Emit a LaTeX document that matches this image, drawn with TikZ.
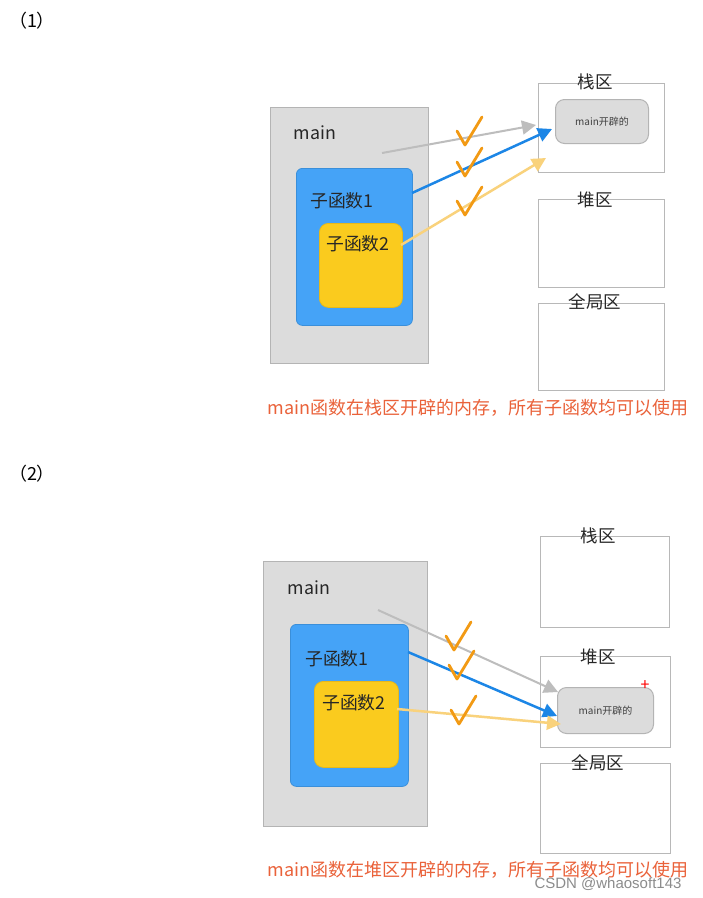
\documentclass[tikz,border=0pt]{standalone}
\usepackage{fontspec}
\setmainfont{Noto Sans CJK SC}
\newfontfamily\wmfont{Liberation Sans}
\usetikzlibrary{arrows.meta}
\definecolor{mgray}{HTML}{DCDCDC}
\definecolor{mgrayb}{HTML}{B4B4B4}
\definecolor{fblue}{HTML}{45A3F7}
\definecolor{fblueb}{HTML}{3A8FDA}
\definecolor{fyel}{HTML}{FACB1E}
\definecolor{fyelb}{HTML}{E8B818}
\definecolor{ablue}{HTML}{1C86E6}
\definecolor{agray}{HTML}{BDBDBD}
\definecolor{ayel}{HTML}{F9D27C}
\definecolor{chkc}{HTML}{F29A14}
\definecolor{capc}{HTML}{EA623A}
\definecolor{regb}{HTML}{B8B8B8}
\begin{document}
\begin{tikzpicture}[x=1pt,y=-1pt,
  mainbox/.style={draw=mgrayb,fill=mgray,line width=1pt,anchor=north west,inner sep=0pt},
  fbox1/.style={draw=fblueb,fill=fblue,rounded corners=6pt,line width=0.8pt,anchor=north west,inner sep=0pt},
  fbox2/.style={draw=fyelb,fill=fyel,rounded corners=9pt,line width=0.8pt,anchor=north west,inner sep=0pt},
  region/.style={draw=regb,fill=white,line width=1pt,anchor=north west,inner sep=0pt},
  allocbox/.style={draw=mgrayb,fill=mgray,rounded corners=9pt,line width=1pt,anchor=north west,inner sep=0pt},
  lbl/.style={font=\fontsize{17.8}{20}\selectfont,text=black!85,inner sep=0pt},
  rlbl/.style={font=\fontsize{17.5}{20}\selectfont,text=black!85,inner sep=0pt},
  smalllbl/.style={font=\fontsize{10}{12}\selectfont,text=black!75,inner sep=0pt},
  captext/.style={font=\fontsize{18}{20}\selectfont,text=capc,inner sep=0pt},
  num/.style={font=\fontsize{18}{20}\selectfont,text=black,inner sep=0pt},
  garrow/.style={draw=agray,line width=2pt,-{Triangle[length=14pt,width=14pt]}},
  barrow/.style={draw=ablue,line width=2.5pt,-{Triangle[length=14pt,width=14pt]}},
  yarrow/.style={draw=ayel,line width=2.5pt,-{Triangle[length=14pt,width=14pt]}},
  chk/.style={draw=chkc,line width=2.8pt,line cap=round,line join=round}
]
\useasboundingbox (0,0) rectangle (703,898);
\fill[white] (0,0) rectangle (703,898);

% ---------------- Panel 1 ----------------
\node[num] (n1) at (32,21) {（1）};
\node[mainbox,minimum width=158pt,minimum height=256pt] (m1) at (270,107) {};
\node[lbl] (m1t) at (315,133) {main};
\node[fbox1,minimum width=116pt,minimum height=157pt] (b1) at (296,168) {};
\node[lbl] (b1t) at (342,201) {子函数1};
\node[fbox2,minimum width=83pt,minimum height=84pt] (y1) at (319,223) {};
\node[lbl] (y1t) at (358,244) {子函数2};

\node[region,minimum width=126pt,minimum height=89pt] (s1) at (538,83) {};
\node[rlbl] (s1t) at (595,82) {栈区};
\node[allocbox,minimum width=93pt,minimum height=44pt] (a1) at (555,99) {};
\node[smalllbl] (a1t) at (a1.center) {main开辟的};
\node[region,minimum width=126pt,minimum height=88pt] (h1) at (538,199) {};
\node[rlbl] (h1t) at (595,200) {堆区};
\node[region,minimum width=126pt,minimum height=87pt] (g1) at (538,303) {};
\node[rlbl] (g1t) at (595,302) {全局区};

\node[captext] (c1) at (478,408) {main函数在栈区开辟的内存，所有子函数均可以使用};

\coordinate (p1g) at (382,153);
\coordinate (p1gt) at (536,125);
\coordinate (p1b) at (412,193);
\coordinate (p1bt) at (552,129);
\coordinate (p1y) at (401,245);
\coordinate (p1yt) at (546,158);
\draw[garrow] (p1g) -- (p1gt);
\draw[barrow] (p1b) -- (p1bt);
\draw[yarrow] (p1y) -- (p1yt);

\draw[chk] (457,131) -- ++(8,14) -- ++(17,-28);
\draw[chk] (457,162) -- ++(8,14) -- ++(17,-28);
\draw[chk] (457,201) -- ++(8,14) -- ++(17,-28);

% ---------------- Panel 2 ----------------
\node[num] (n2) at (32,474) {（2）};
\node[mainbox,minimum width=164pt,minimum height=265pt] (m2) at (263,561) {};
\node[lbl] (m2t) at (309,588) {main};
\node[fbox1,minimum width=118pt,minimum height=162pt] (b2) at (290,624) {};
\node[lbl] (b2t) at (337,659) {子函数1};
\node[fbox2,minimum width=84pt,minimum height=86pt] (y2) at (314,681) {};
\node[lbl] (y2t) at (354,703) {子函数2};

\node[region,minimum width=129pt,minimum height=91pt] (s2) at (540,536) {};
\node[rlbl] (s2t) at (598,536) {栈区};
\node[region,minimum width=130pt,minimum height=91pt] (h2) at (540,656) {};
\node[rlbl] (h2t) at (598,657) {堆区};
\node[allocbox,minimum width=96pt,minimum height=46pt] (a2) at (557,687) {};
\node[smalllbl] (a2t) at (a2.center) {main开辟的};
\node[text=red,font=\fontsize{16}{16}\selectfont,inner sep=0pt] (plus) at (645,686) {+};
\node[region,minimum width=130pt,minimum height=90pt] (g2) at (540,763) {};
\node[rlbl] (g2t) at (598,763) {全局区};

\node[captext] (c2) at (478,870) {main函数在堆区开辟的内存，所有子函数均可以使用};
\node[text=black!45,font=\wmfont\fontsize{15}{17}\selectfont,inner sep=0pt] (wm) at (608,884) {CSDN @whaosoft143};

\coordinate (p2g) at (378,610);
\coordinate (p2gt) at (558,692);
\coordinate (p2b) at (408,652);
\coordinate (p2bt) at (557,716);
\coordinate (p2y) at (397,709);
\coordinate (p2yt) at (561,724);
\draw[garrow] (p2g) -- (p2gt);
\draw[barrow] (p2b) -- (p2bt);
\draw[yarrow] (p2y) -- (p2yt);

\draw[chk] (446,636) -- ++(8,14) -- ++(17,-28);
\draw[chk] (449,665) -- ++(8,14) -- ++(17,-28);
\draw[chk] (451,710) -- ++(8,14) -- ++(17,-28);
\end{tikzpicture}
\end{document}
